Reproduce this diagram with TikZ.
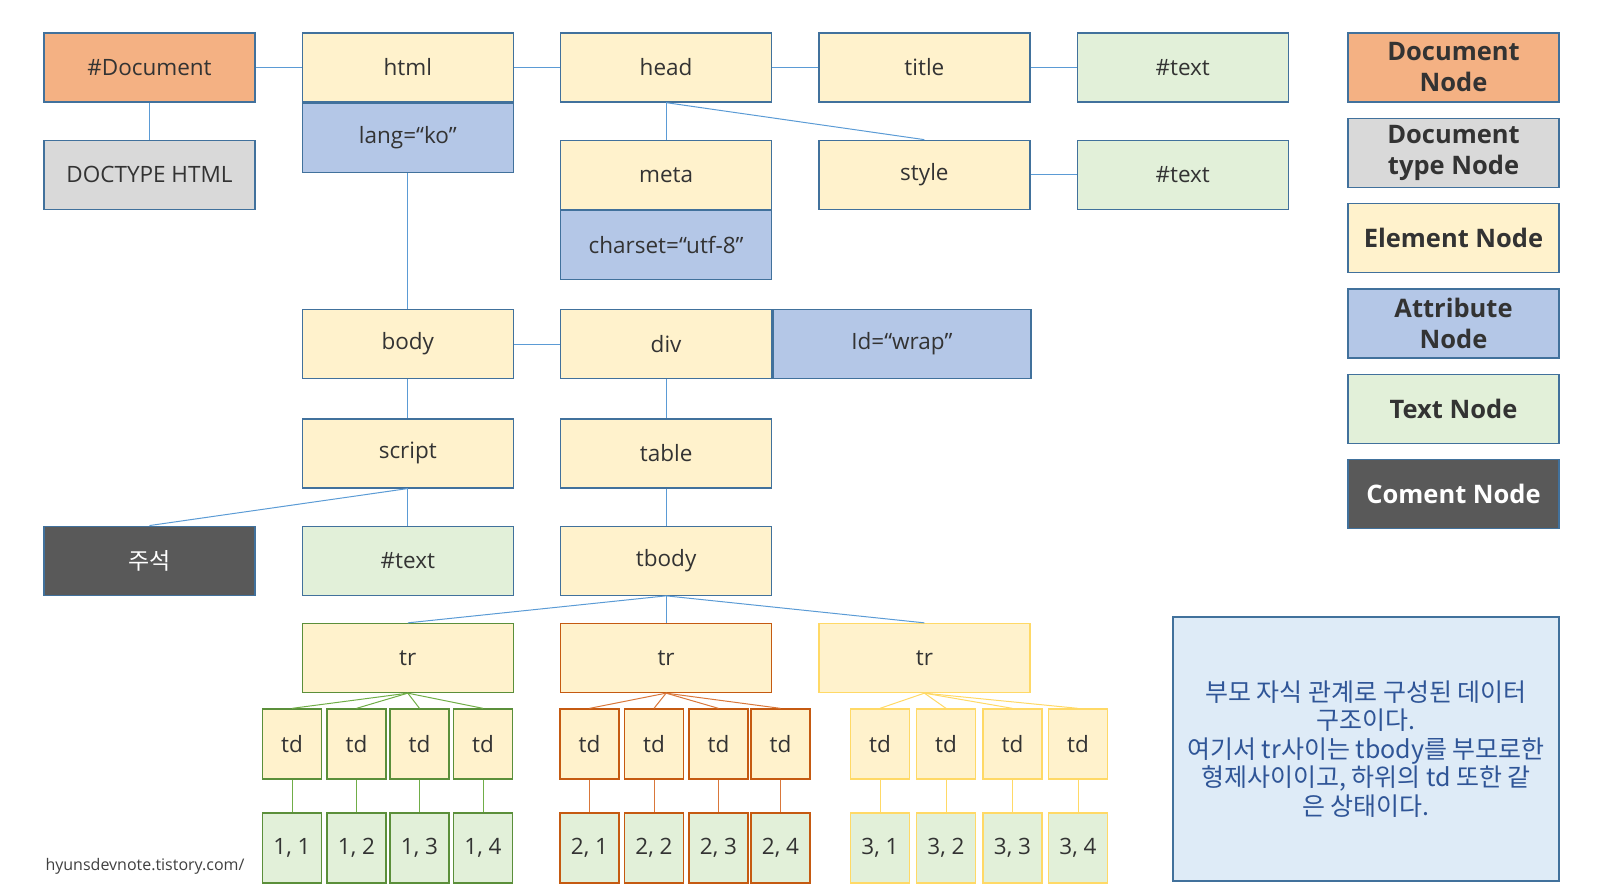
\documentclass[tikz,border=0pt]{standalone}
\usepackage{fontspec}
\setmainfont{Open Sans}
\newfontfamily\korfont{Noto Sans CJK KR}
\usetikzlibrary{positioning}

\definecolor{docfill}{HTML}{F4B183}
\definecolor{typefill}{HTML}{D9D9D9}
\definecolor{elemfill}{HTML}{FFF2CC}
\definecolor{attrfill}{HTML}{B4C7E7}
\definecolor{textfill}{HTML}{E2F0D9}
\definecolor{commfill}{HTML}{595959}
\definecolor{notefill}{HTML}{DEEBF7}
\definecolor{notetext}{HTML}{2F5597}
\definecolor{boxline}{HTML}{41719C}
\definecolor{linkblue}{HTML}{5B9BD5}
\definecolor{labelgray}{HTML}{333333}
\definecolor{footgray}{HTML}{404040}
\definecolor{grnline}{HTML}{5B8F3A}
\definecolor{grnlink}{HTML}{70AD47}
\definecolor{orgline}{HTML}{C55A11}
\definecolor{orglink}{HTML}{D9773A}
\definecolor{ylwline}{HTML}{FFD966}

\begin{document}
\begin{tikzpicture}[x=1pt, y=-1pt, node distance=37pt and 46pt,
  box/.style={rectangle, draw=boxline, line width=1.3pt, minimum width=211pt,
              minimum height=69pt, inner sep=0pt, text=labelgray,
              font=\fontsize{22.5}{26}\selectfont},
  docnode/.style={box, fill=docfill},
  typenode/.style={box, fill=typefill},
  elemnode/.style={box, fill=elemfill},
  attrnode/.style={box, fill=attrfill},
  textnode/.style={box, fill=textfill},
  commnode/.style={box, fill=commfill, text=white, font=\korfont\fontsize{23}{26}\selectfont},
  legend/.style={box, align=center, font=\bfseries\fontsize{25.5}{31}\selectfont},
  cell/.style={box, minimum width=59pt, minimum height=70pt, draw=#1},
  link/.style={draw=linkblue, line width=1pt},
  rowlink/.style={draw=#1, line width=1pt}
]
\useasboundingbox (0,0) rectangle (1600,893);

% ==========================================================
% head part
% ==========================================================
\node[docnode] (doc) at (149.5,67.5) {\#Document};
\node[typenode, below=of doc] (doctype) {DOCTYPE HTML};
\node[elemnode, right=of doc] (html) {html};
\node[attrnode, below=0pt of html] (lang) {lang=“ko”};
\node[elemnode, right=of html] (head) {head};
\node[elemnode, right=of head] (title) {title};
\node[textnode, right=of title] (titletext) {\#text};
\node[elemnode, below=of head] (meta) {meta};
\node[attrnode, below=0pt of meta] (charset) {charset=“utf-8”};
\node[elemnode, below=of title] (style) {style};
\node[textnode, below=of titletext] (styletext) {\#text};

% ==========================================================
% body part
% ==========================================================
\node[elemnode, below=136pt of lang] (body) {body};
\node[elemnode, right=of body] (div) {div};
\node[attrnode, right=0pt of div, minimum width=258pt] (wrap) {Id=“wrap”};
\node[elemnode, below=39pt of body] (script) {script};
\node[elemnode, right=of script] (table) {table};
\node[textnode, below=of script] (scripttext) {\#text};
\node[commnode, left=of scripttext] (comment) {주석};
\node[elemnode, right=of scripttext] (tbody) {tbody};
\node[elemnode, below=27pt of tbody, draw=orgline] (tr2) {tr};
\node[elemnode, left=of tr2, draw=grnline] (tr1) {tr};
\node[elemnode, right=of tr2, draw=ylwline] (tr3) {tr};

% ==========================================================
% Relationships
% ==========================================================
\draw[link] (doc) -- (html);
\draw[link] (doc) -- (doctype);
\draw[link] (html) -- (head);
\draw[link] (head) -- (title);
\draw[link] (title) -- (titletext);
\draw[link] (head.south) -- (meta.north);
\draw[link] (head.south) -- (style.north);
\draw[link] (style) -- (styletext);
\draw[link] (lang) -- (body);
\draw[link] (body) -- (div);
\draw[link] (body) -- (script);
\draw[link] (div) -- (table);
\draw[link] (script.south) -- (comment.north);
\draw[link] (script) -- (scripttext);
\draw[link] (table) -- (tbody);
\foreach \r in {tr1,tr2,tr3}
  \draw[link] (tbody.south) -- (\r.north);

% ==========================================================
% rows and cells
% ==========================================================
\foreach \x [count=\i] in {292,356.5,419.5,483} {
  \node[cell=grnline, fill=elemfill] (tda\i) at (\x,744) {td};
  \node[cell=grnline, fill=textfill] (vala\i) at (\x,848) {1, \i};
  \draw[rowlink=grnlink] (tr1.south) -- (tda\i.north);
  \draw[rowlink=grnlink] (tda\i) -- (vala\i);
}
\foreach \x [count=\i] in {589.5,654,718.5,780.5} {
  \node[cell=orgline, fill=elemfill] (tdb\i) at (\x,744) {td};
  \node[cell=orgline, fill=textfill] (valb\i) at (\x,848) {2, \i};
  \draw[rowlink=orglink] (tr2.south) -- (tdb\i.north);
  \draw[rowlink=orglink] (tdb\i) -- (valb\i);
}
\foreach \x [count=\i] in {880,946,1012.5,1078} {
  \node[cell=ylwline, fill=elemfill] (tdc\i) at (\x,744) {td};
  \node[cell=ylwline, fill=textfill] (valc\i) at (\x,848) {3, \i};
  \draw[rowlink=ylwline] (tr3.south) -- (tdc\i.north);
  \draw[rowlink=ylwline] (tdc\i) -- (valc\i);
}

% ==========================================================
% Legend and notes
% ==========================================================
\node[legend, fill=docfill] (lgdoc) at (1453.5,67.5) {Document\\Node};
\node[legend, fill=typefill, below=15pt of lgdoc] (lgtype) {Document\\type Node};
\node[legend, fill=elemfill, below=15pt of lgtype] (lgelem) {Element Node};
\node[legend, fill=attrfill, below=15pt of lgelem] (lgattr) {Attribute\\Node};
\node[legend, fill=textfill, below=15pt of lgattr] (lgtext) {Text Node};
\node[legend, fill=commfill, text=white, below=15pt of lgtext] (lgcomm) {Coment Node};

\node[box, fill=notefill, minimum width=386pt, minimum height=264pt, text=notetext,
      align=center, font=\korfont\fontsize{25}{28.5}\selectfont] (note) at (1366,749)
  {부모 자식 관계로 구성된 데이터\\구조이다.\\여기서 tr사이는 tbody를 부모로한\\형제사이이고, 하위의 td 또한 같\\은 상태이다.};

\node[anchor=west, text=footgray, font=\fontsize{16}{19}\selectfont] (site) at (42,866)
  {hyunsdevnote.tistory.com/};

\end{tikzpicture}
\end{document}
